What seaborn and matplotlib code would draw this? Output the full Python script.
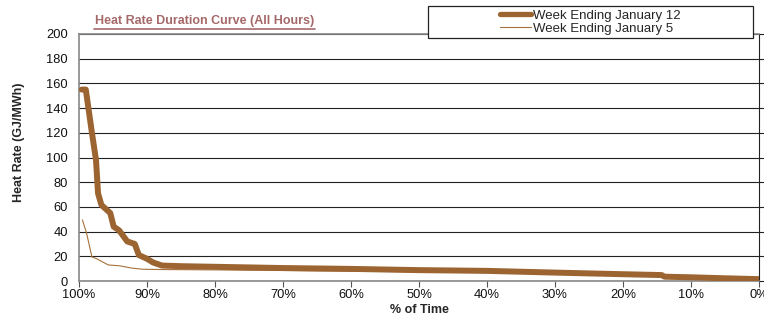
import matplotlib
matplotlib.use("Agg")
import matplotlib.pyplot as plt
import matplotlib.ticker as mticker
from matplotlib.patches import Rectangle
from matplotlib.lines import Line2D
import seaborn as sns
import pandas as pd

# ─── Datos ───────────────────────────────────────────────────────────────────
pct_jan12 = [99.6, 99.0, 98.1, 97.5, 97.2, 96.7, 95.4, 94.9, 94.1, 92.9, 91.8,
             91.2, 90.0, 89.1, 87.8, 85, 80, 70, 60, 50, 40, 30, 20, 14.3,
             13.9, 10, 5, 0]
hr_jan12 = [155, 155, 120, 98, 71, 61.5, 55, 44, 41, 32, 30, 21, 18, 15, 12.5,
            12, 11.5, 10.5, 9.8, 8.8, 8.2, 6.8, 5.5, 4.8, 3.5, 3.0, 2.2, 1.5]

pct_jan5 = [99.5, 98.9, 98.1, 97.4, 95.7, 94.0, 92.3, 90.6, 88, 80, 70, 60,
            50, 40, 30, 20, 10, 0]
hr_jan5 = [49.5, 39, 19.5, 18, 13, 12.3, 10.5, 9.5, 9.3, 9, 8.5, 8, 7.5, 7,
           6, 4.8, 2.5, 1.5]

SERIE_12 = "Week Ending January 12"
SERIE_5 = "Week Ending January 5"
COLOR = "#9C6430"
COLOR_FINO = "#A8703A"

df = pd.concat([
    pd.DataFrame({"pct": pct_jan12, "hr": hr_jan12, "serie": SERIE_12}),
    pd.DataFrame({"pct": pct_jan5, "hr": hr_jan5, "serie": SERIE_5}),
])

sns.set_theme(style="white")
plt.rcParams["font.family"] = ["Liberation Sans", "DejaVu Sans"]

fig = plt.figure(figsize=(7.64, 3.18), dpi=100)
ax = fig.add_axes([79 / 764, 37 / 318, 680 / 764, 247 / 318])

sns.lineplot(data=df, x="pct", y="hr", hue="serie", size="serie",
             hue_order=[SERIE_12, SERIE_5], size_order=[SERIE_12, SERIE_5],
             palette=[COLOR, COLOR_FINO], sizes=[4.3, 0.8], ax=ax,
             legend=False, estimator=None)
# la línea gruesa encima de la fina
ax.lines[0].set_zorder(3)
ax.lines[1].set_zorder(2)

ax.set_xlim(100, 0)
ax.set_ylim(0, 200)
ax.set_xticks(range(100, -1, -10))
ax.xaxis.set_major_formatter(mticker.FuncFormatter(lambda v, p: f"{int(v)}%"))
ax.set_yticks(range(0, 201, 20))
ax.grid(axis="y", color="#222222", linewidth=0.8)
ax.grid(axis="x", visible=False)

for lado in ["left", "bottom", "top"]:
    ax.spines[lado].set_color("#888888")
    ax.spines[lado].set_linewidth(1.2)
ax.spines["right"].set_color("#222222")
ax.spines["right"].set_linewidth(0.8)

ax.tick_params(axis="x", bottom=True, length=4, width=0.8, color="#555555",
               labelsize=9.3, pad=2, labelcolor="#111111")
ax.tick_params(axis="y", left=False, right=True, labelleft=True,
               length=4, width=0.8, color="#222222", labelsize=9.3, pad=4,
               labelcolor="#111111")

ax.set_xlabel("% of Time", fontsize=9, fontweight="bold", labelpad=2)
ax.set_ylabel("Heat Rate (GJ/MWh)", fontsize=9, fontweight="bold")
ax.yaxis.set_label_coords(-0.08, 0.56)

# Título subrayado
fig.text(95 / 764, 1 - 21 / 318, "Heat Rate Duration Curve (All Hours)",
         fontsize=9, fontweight="bold", color="#A5696A", va="center", ha="left")
fig.add_artist(Line2D([94 / 764, 315 / 764], [1 - 28.5 / 318, 1 - 28.5 / 318],
                      transform=fig.transFigure, color="#A5696A", lw=1.2))

# Caja de leyenda
fig.add_artist(Rectangle((428 / 764, 1 - 38 / 318), 325 / 764, 32 / 318,
                         transform=fig.transFigure, facecolor="white",
                         edgecolor="#222222", lw=0.9, zorder=5))
handles = [Line2D([], [], color=COLOR, lw=3.8),
           Line2D([], [], color=COLOR_FINO, lw=0.8)]
leg = fig.legend(handles, [SERIE_12, SERIE_5], loc="center",
                 bbox_to_anchor=(590 / 764, 1 - 22 / 318), frameon=False,
                 fontsize=9.5, handlelength=2.4, handletextpad=0.1,
                 labelspacing=0.05, borderpad=0)
leg.set_zorder(6)

fig.savefig("out.png", dpi=100)
